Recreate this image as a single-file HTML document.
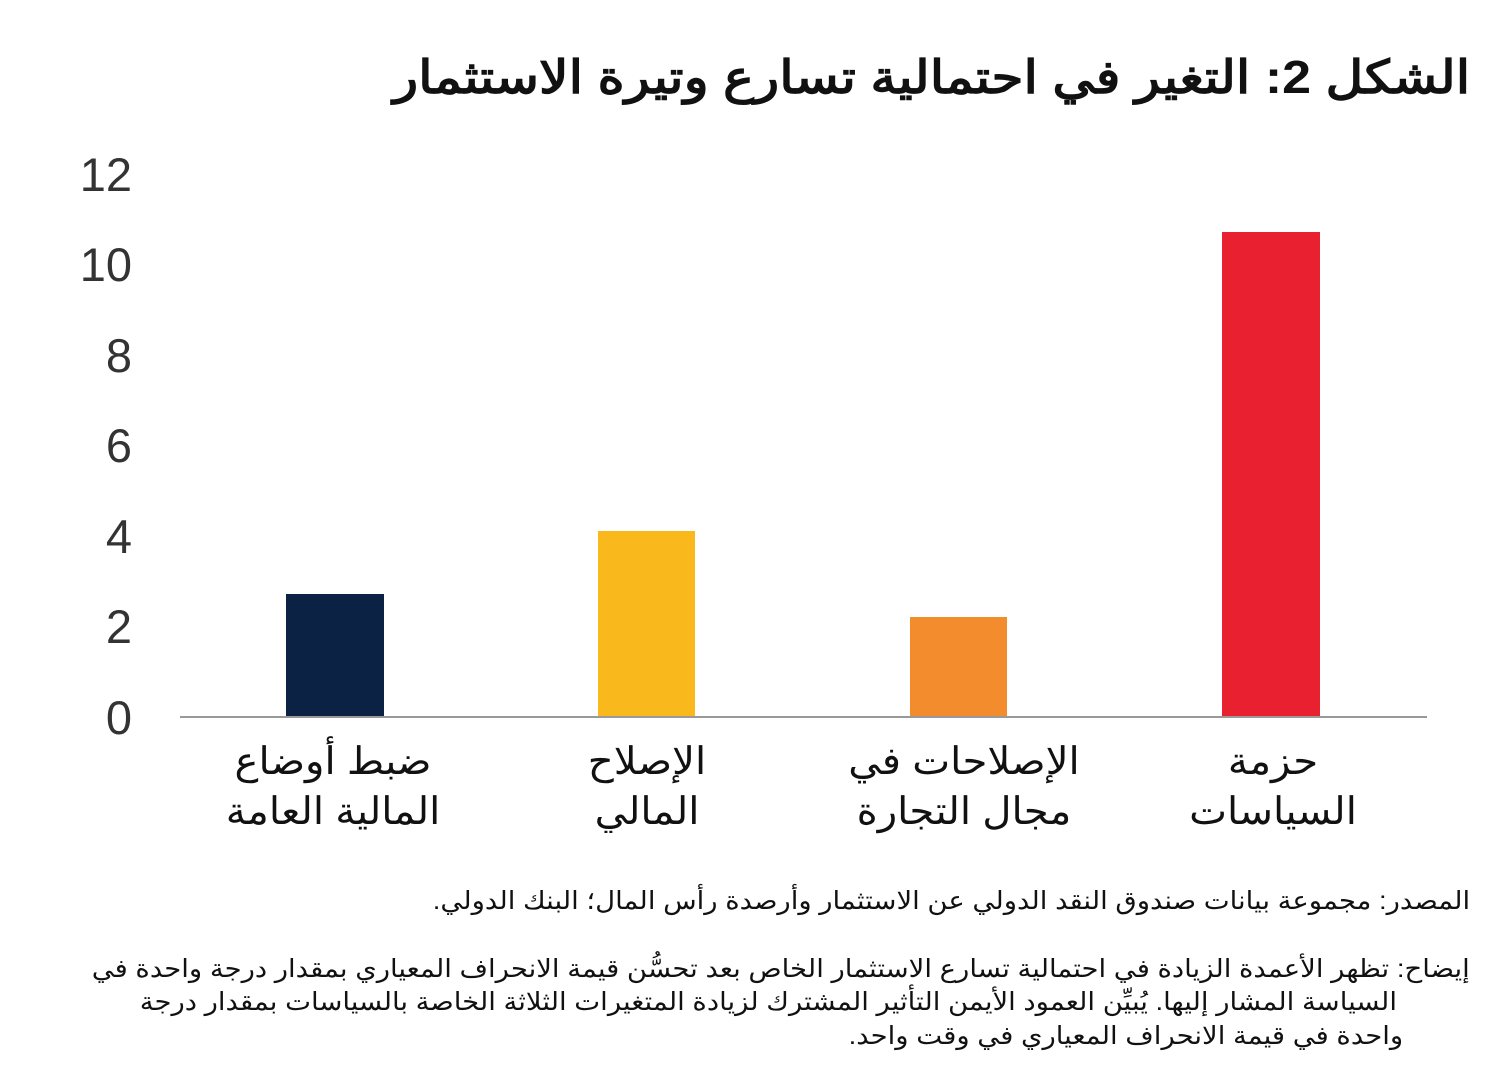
<!DOCTYPE html>
<html><head><meta charset="utf-8"><style>
body{margin:0;width:1500px;height:1072px;background:#fff;position:relative;overflow:hidden;font-family:"Liberation Sans","Noto Sans CJK SC",sans-serif;color:#111}
.a{position:absolute;white-space:nowrap}
.t{right:30px;top:50px;font-size:46px;font-weight:bold;direction:rtl;transform:scaleX(1.13);transform-origin:right center}
.y{width:70px;text-align:right;left:62px;font-size:47px;color:#333;font-family:"Liberation Sans",sans-serif}
.bar{position:absolute}
.c{font-size:38px;text-align:center;width:340px;direction:rtl;line-height:50px;transform:scaleX(1.06)}
.s{font-size:25px;direction:rtl;transform:scaleX(1.1);transform-origin:right center}
</style></head><body>
<div class="a t">الشكل 2: التغير في احتمالية تسارع وتيرة الاستثمار</div>
<div class="a y" style="top:147px">12</div>
<div class="a y" style="top:237px">10</div>
<div class="a y" style="top:328px">8</div>
<div class="a y" style="top:418px">6</div>
<div class="a y" style="top:509px">4</div>
<div class="a y" style="top:599px">2</div>
<div class="a y" style="top:690px">0</div>
<div class="bar" style="left:286px;width:98px;top:594px;height:123px;background:#0b2244"></div>
<div class="bar" style="left:598px;width:97px;top:531px;height:186px;background:#f9b91c"></div>
<div class="bar" style="left:910px;width:97px;top:617px;height:100px;background:#f28c2c"></div>
<div class="bar" style="left:1222px;width:98px;top:232px;height:485px;background:#e8202f"></div>
<div class="bar" style="left:180px;width:1247px;top:716px;height:2px;background:#999"></div>
<div class="a c" style="left:163px;top:737px">ضبط أوضاع<br>المالية العامة</div>
<div class="a c" style="left:477px;top:737px">الإصلاح<br>المالي</div>
<div class="a c" style="left:794px;top:737px">الإصلاحات في<br>مجال التجارة</div>
<div class="a c" style="left:1103px;top:737px">حزمة<br>السياسات</div>
<div class="a s" style="right:30px;top:886px">المصدر: مجموعة بيانات صندوق النقد الدولي عن الاستثمار وأرصدة رأس المال؛ البنك الدولي.</div>
<div class="a s" style="right:30px;top:954px">إيضاح: تظهر الأعمدة الزيادة في احتمالية تسارع الاستثمار الخاص بعد تحسُّن قيمة الانحراف المعياري بمقدار درجة واحدة في</div>
<div class="a s" style="right:103px;top:987px">السياسة المشار إليها. يُبيِّن العمود الأيمن التأثير المشترك لزيادة المتغيرات الثلاثة الخاصة بالسياسات بمقدار درجة</div>
<div class="a s" style="right:97px;top:1021px">واحدة في قيمة الانحراف المعياري في وقت واحد.</div>
</body></html>
